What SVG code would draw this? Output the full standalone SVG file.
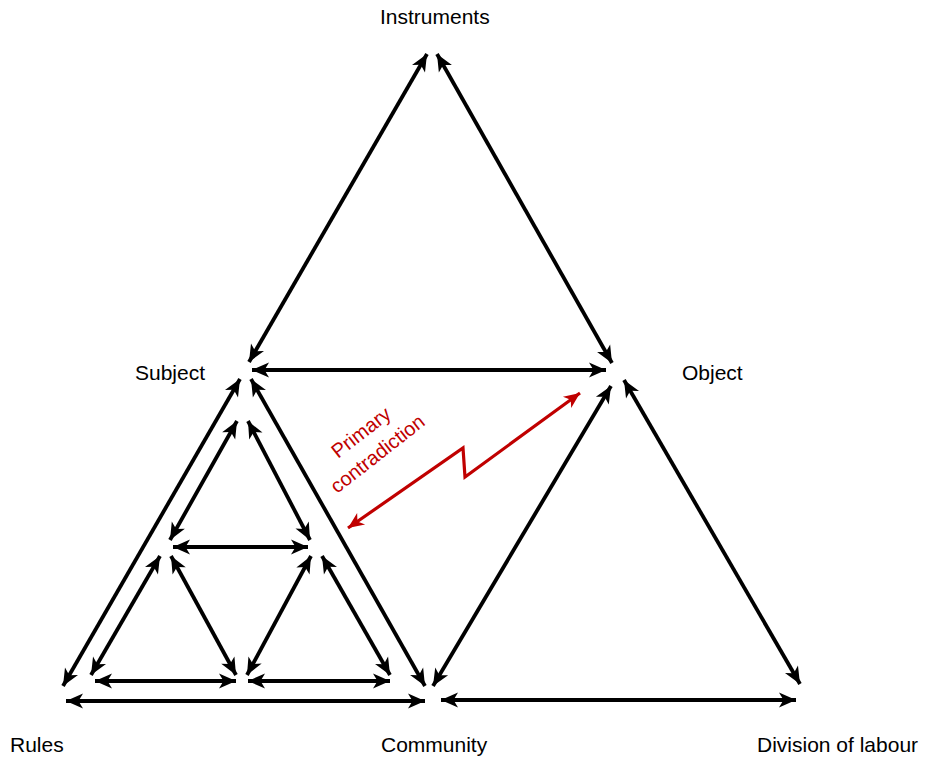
<svg xmlns="http://www.w3.org/2000/svg" width="932" height="758" viewBox="0 0 932 758">
<style>
.lbl{font-family:"Liberation Sans",Arial,sans-serif;font-size:21px;fill:#000}
.red{font-family:"Liberation Sans",Arial,sans-serif;font-size:20px;fill:#c00000}
.e{stroke:#000;stroke-width:3.8;fill:none;marker-start:url(#ah);marker-end:url(#ah)}
.r{stroke:#c00000;stroke-width:3.2;fill:none;stroke-linejoin:miter;marker-start:url(#rh);marker-end:url(#rh)}
</style>
<defs>
<marker id="ah" markerUnits="userSpaceOnUse" markerWidth="22" markerHeight="22" viewBox="-2 -9 22 18" refX="17" refY="0" orient="auto-start-reverse">
<path d="M0,-7.5 L17,0 L0,7.5 L4.5,0 Z" fill="#000"/>
</marker>
<marker id="rh" markerUnits="userSpaceOnUse" markerWidth="22" markerHeight="22" viewBox="-2 -9 22 18" refX="16" refY="0" orient="auto-start-reverse">
<path d="M0,-7 L16,0 L0,7 L4.5,0 Z" fill="#c00000"/>
</marker>
</defs>
<rect width="932" height="758" fill="#fff"/>
<g id="connectors">
<line class="e" x1="249" y1="362" x2="427" y2="54"/>
<line class="e" x1="437" y1="54" x2="612" y2="363"/>
<line class="e" x1="252" y1="370" x2="606" y2="370"/>
<line class="e" x1="611" y1="386" x2="433" y2="686"/>
<line class="e" x1="624" y1="380" x2="800" y2="684"/>
<line class="e" x1="441" y1="700" x2="796" y2="700"/>
<line class="e" x1="240" y1="379" x2="63" y2="686"/>
<line class="e" x1="251" y1="379" x2="425" y2="686"/>
<line class="e" x1="66" y1="701" x2="425" y2="701"/>
<line class="e" x1="237" y1="421" x2="170" y2="540"/>
<line class="e" x1="248" y1="421" x2="310" y2="540"/>
<line class="e" x1="173" y1="547" x2="308" y2="547"/>
<line class="e" x1="160" y1="556" x2="91" y2="675"/>
<line class="e" x1="171" y1="556" x2="236" y2="675"/>
<line class="e" x1="311" y1="556" x2="247" y2="675"/>
<line class="e" x1="322" y1="556" x2="390" y2="675"/>
<line class="e" x1="95" y1="681" x2="236" y2="681"/>
<line class="e" x1="248" y1="681" x2="390" y2="681"/>
<polyline class="r" points="348,528 463,448 465,477 580,393"/>
</g>
<g id="instruments"><text class="lbl" x="380" y="24">Instruments</text></g>
<g id="subject"><text class="lbl" x="135" y="380">Subject</text></g>
<g id="object"><text class="lbl" x="682" y="380">Object</text></g>
<g id="rules"><text class="lbl" x="10" y="752">Rules</text></g>
<g id="community"><text class="lbl" x="381" y="752">Community</text></g>
<g id="division"><text class="lbl" x="757" y="752">Division of labour</text></g>
<g id="primary-contradiction">
<text class="red" transform="translate(338,459) rotate(-38)">Primary</text>
<text class="red" transform="translate(337,494) rotate(-38)">contradiction</text>
</g>
</svg>
